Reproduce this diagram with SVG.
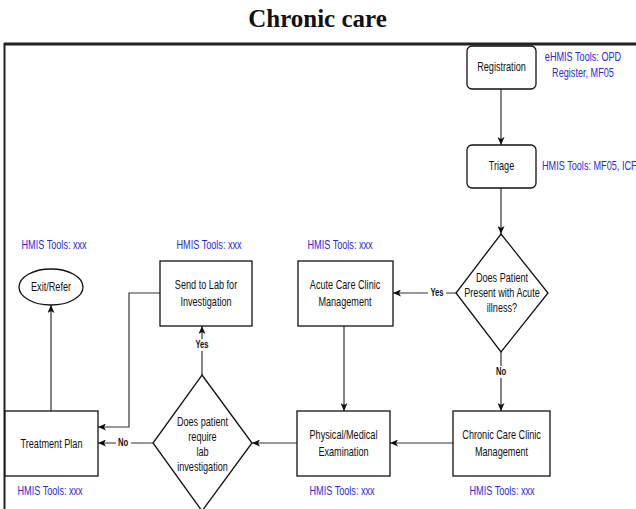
<svg xmlns="http://www.w3.org/2000/svg" width="636" height="509" viewBox="0 0 636 509">
<defs>
<style>
.bg{fill:#fff}
.n{fill:#fff;stroke:#111;stroke-width:1.3}
.t{font-family:"Liberation Sans",Arial,sans-serif;font-size:12.5px;fill:#111;text-anchor:middle;transform-box:fill-box;transform-origin:center;transform:scaleX(0.73)}
.tl{text-anchor:start;transform-origin:left center}
.blue{fill:#2a2ad8}
.el{font-size:10.5px;font-weight:bold}
.c{stroke:#333;stroke-width:1.2;fill:none;marker-end:url(#ah)}
.lb{fill:#fff}
</style>
<marker id="ah" markerUnits="userSpaceOnUse" markerWidth="8" markerHeight="7" refX="8" refY="3.5" orient="auto">
<path d="M0,0 L8,3.5 L0,7 L2,3.5 Z" fill="#111"/>
</marker>
</defs>
<rect class="bg" width="636" height="509"/>
<text x="317.5" y="27" font-family="'Liberation Serif',serif" font-weight="bold" font-size="25" text-anchor="middle" fill="#111">Chronic care</text>
<g id="frame">
<line x1="4" y1="44" x2="636" y2="44" stroke="#222" stroke-width="3"/>
<line x1="4.5" y1="43" x2="4.5" y2="509" stroke="#222" stroke-width="2"/>
</g>
<g id="connectors">
<line class="c" x1="501" y1="89" x2="501" y2="145"/>
<line class="c" x1="501" y1="188" x2="501" y2="234"/>
<line class="c" x1="456" y1="293" x2="393" y2="293"/>
<line class="c" x1="501" y1="352" x2="501" y2="411"/>
<line class="c" x1="344" y1="326" x2="344" y2="411"/>
<line class="c" x1="453" y1="443" x2="390" y2="443"/>
<line class="c" x1="297" y1="443" x2="252" y2="443"/>
<line class="c" x1="202" y1="375" x2="202" y2="326"/>
<line class="c" x1="153" y1="443" x2="98" y2="443"/>
<polyline class="c" points="160,293 129,293 129,427 98,427"/>
<line class="c" x1="51" y1="411" x2="51" y2="305"/>
<g id="edge-labels">
<rect class="lb" x="428" y="287" width="18" height="12"/>
<text class="t el" x="437" y="296.5">Yes</text>
<rect class="lb" x="494" y="366" width="15" height="12"/>
<text class="t el" x="501" y="375.5">No</text>
<rect class="lb" x="193" y="339" width="18" height="12"/>
<text class="t el" x="202" y="348.5">Yes</text>
<rect class="lb" x="116" y="437" width="15" height="12"/>
<text class="t el" x="123" y="446.5">No</text>
</g>
</g>
<g id="registration">
<rect class="n" x="467" y="46" width="69" height="43" rx="5"/>
<text class="t" x="501.5" y="71">Registration</text>
<text class="t blue" x="583" y="61">eHMIS Tools: OPD</text>
<text class="t blue" x="583" y="77">Register, MF05</text>
</g>
<g id="triage">
<rect class="n" x="467" y="145" width="69" height="43" rx="5"/>
<text class="t" x="501.5" y="170">Triage</text>
<text class="t tl blue" x="542" y="170">HMIS Tools: MF05, ICF</text>
</g>
<g id="acute-decision">
<polygon class="n" points="501,234 548,293 501,352 456,293"/>
<text class="t" x="502" y="282">Does Patient</text>
<text class="t" x="502" y="297">Present with Acute</text>
<text class="t" x="502" y="312">illness?</text>
</g>
<g id="acute-care">
<rect class="n" x="298" y="261" width="95" height="65"/>
<text class="t" x="345" y="289">Acute Care Clinic</text>
<text class="t" x="345" y="306">Management</text>
<text class="t blue" x="340" y="249">HMIS Tools: xxx</text>
</g>
<g id="send-to-lab">
<rect class="n" x="160" y="261" width="92" height="65"/>
<text class="t" x="206" y="289">Send to Lab for</text>
<text class="t" x="206" y="306">Investigation</text>
<text class="t blue" x="209" y="249">HMIS Tools: xxx</text>
</g>
<g id="exit-refer">
<ellipse class="n" cx="51" cy="287" rx="32" ry="18"/>
<text class="t" x="51" y="291">Exit/Refer</text>
<text class="t blue" x="54" y="249">HMIS Tools: xxx</text>
</g>
<g id="chronic-care">
<rect class="n" x="453" y="411" width="97" height="65"/>
<text class="t" x="501.5" y="439">Chronic Care Clinic</text>
<text class="t" x="501.5" y="456">Management</text>
<text class="t blue" x="502" y="495">HMIS Tools: xxx</text>
</g>
<g id="physical-exam">
<rect class="n" x="297" y="411" width="93" height="65"/>
<text class="t" x="343.5" y="439">Physical/Medical</text>
<text class="t" x="343.5" y="456">Examination</text>
<text class="t blue" x="342" y="495">HMIS Tools: xxx</text>
</g>
<g id="lab-decision">
<polygon class="n" points="202,375 252,443 202,511 153,443"/>
<text class="t" x="202.5" y="426">Does patient</text>
<text class="t" x="202.5" y="441">require</text>
<text class="t" x="202.5" y="456">lab</text>
<text class="t" x="202.5" y="471">investigation</text>
</g>
<g id="treatment-plan">
<rect class="n" x="5" y="411" width="93" height="65"/>
<text class="t" x="51.5" y="448">Treatment Plan</text>
<text class="t blue" x="50" y="495">HMIS Tools: xxx</text>
</g>
</svg>
